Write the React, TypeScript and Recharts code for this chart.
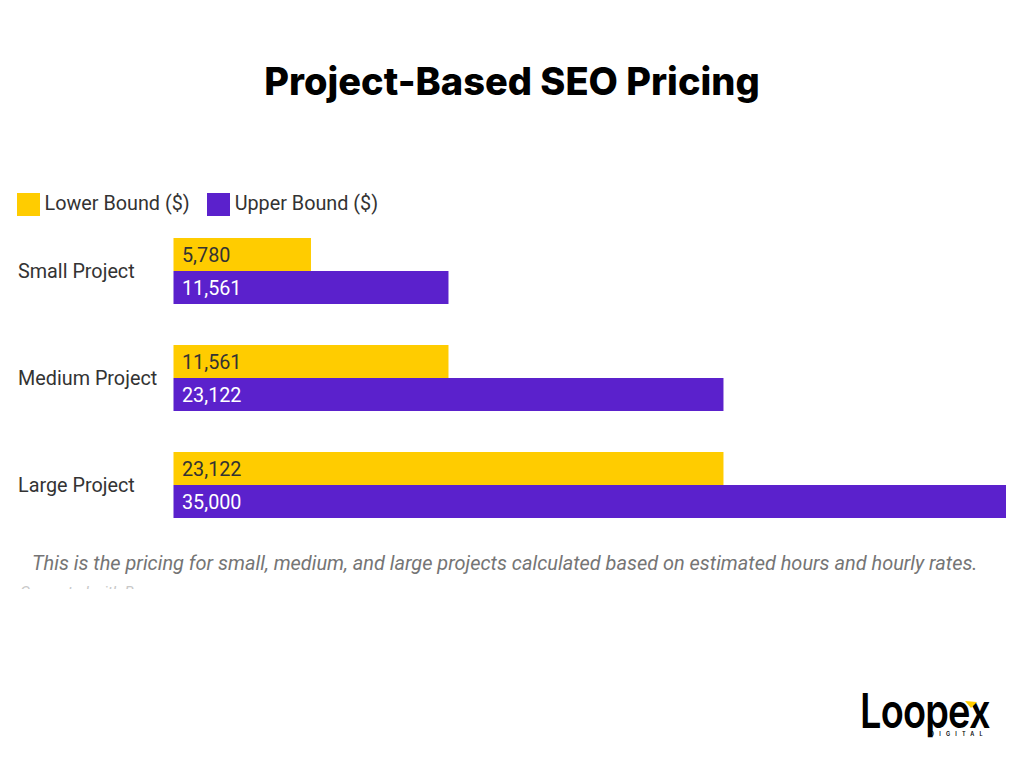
import React from "react";
import { Bar, BarChart, LabelList, Legend, XAxis, YAxis } from "recharts";

const categories = ["Small Project", "Medium Project", "Large Project"];
const lowerBound = [5780, 11561, 23122];
const upperBound = [11561, 23122, 35000];
const seriesNames = ["Lower Bound ($)", "Upper Bound ($)"];
const seriesColors = ["#FFCC00", "#5B21CC"];

const data = categories.map((name, i) => ({
  name,
  lower: lowerBound[i],
  upper: upperBound[i],
}));

const font = "Roboto, sans-serif";

const CategoryTick = ({ y, payload }: any) => (
  <text x={18} y={y} dy={7} fontSize={19.8} fontFamily={font} fill="#333333" textAnchor="start">
    {payload.value}
  </text>
);

const ChartLegend = ({ payload }: any) => (
  <div style={{ display: "flex", height: 24, fontFamily: font, fontSize: 19.8, color: "#333333" }}>
    {(payload || []).map((item: any) => (
      <div key={item.value} style={{ display: "flex", alignItems: "center", marginRight: 17 }}>
        <span style={{ width: 23, height: 23, background: item.color, marginRight: 5 }} />
        <span style={{ position: "relative", top: -1 }}>{item.value}</span>
      </div>
    ))}
  </div>
);

const fmt = (v: any) => Number(v).toLocaleString("en-US");

const App = () => {
  return (
    <div style={{ position: "absolute", left: 0, top: 0, width: 1024, height: 768, background: "#fff", overflow: "hidden" }}>
      <div
        style={{
          position: "absolute",
          left: 0,
          width: 1024,
          top: 57,
          textAlign: "center",
          fontFamily: "Inter, sans-serif",
          fontWeight: 800,
          fontSize: 38,
          lineHeight: "48px",
          color: "#000",
          whiteSpace: "nowrap",
        }}
      >
        Project-Based SEO Pricing
      </div>

      <div style={{ position: "absolute", left: 0, top: 0 }}>
        <BarChart
          layout="vertical"
          width={1024}
          height={768}
          data={data}
          margin={{ top: 193, right: 18, left: 0, bottom: 230 }}
          barGap={0}
          barSize={33}
        >
          <XAxis type="number" domain={[0, 35000]} hide />
          <YAxis
            type="category"
            dataKey="name"
            width={173.5}
            axisLine={false}
            tickLine={false}
            tick={<CategoryTick />}
          />
          <Legend
            verticalAlign="top"
            align="left"
            content={<ChartLegend />}
            wrapperStyle={{ left: 16.5, top: 192, width: 600 }}
          />
          <Bar dataKey="lower" name={seriesNames[0]} fill={seriesColors[0]} isAnimationActive={false}>
            <LabelList dataKey="lower" position="insideLeft" offset={8.5} formatter={fmt} fill="#333333" fontSize={19.8} fontFamily={font} />
          </Bar>
          <Bar dataKey="upper" name={seriesNames[1]} fill={seriesColors[1]} isAnimationActive={false}>
            <LabelList dataKey="upper" position="insideLeft" offset={8.5} formatter={fmt} fill="#ffffff" fontSize={19.8} fontFamily={font} />
          </Bar>
        </BarChart>
      </div>

      <div
        style={{
          position: "absolute",
          left: 32,
          top: 551,
          fontFamily: font,
          fontStyle: "italic",
          fontSize: 19.95,
          lineHeight: "24px",
          color: "#757575",
          whiteSpace: "nowrap",
        }}
      >
        This is the pricing for small, medium, and large projects calculated based on estimated hours and hourly rates.
      </div>

      {/* line below the note is cut off in the original, only the tops show */}
      <div style={{ position: "absolute", left: 20, top: 586, height: 3, width: 130, overflow: "hidden" }}>
        <div style={{ marginTop: -4, fontFamily: font, fontStyle: "italic", fontSize: 15.5, lineHeight: "20px", color: "#c8c8c8", whiteSpace: "nowrap" }}>
          Generated with B
        </div>
      </div>

      <div
        style={{
          position: "absolute",
          left: 860,
          top: 682,
          fontFamily: "Inter, sans-serif",
          fontWeight: 600,
          fontSize: 48,
          lineHeight: "58px",
          letterSpacing: -1,
          color: "#000",
          transform: "scaleX(0.79)",
          transformOrigin: "left top",
          whiteSpace: "nowrap",
        }}
      >
        Loopex
      </div>
      <svg width={12} height={8} style={{ position: "absolute", left: 965, top: 701 }}>
        <polygon points="0,0 12,1 6,7" fill="#FFCC00" />
      </svg>
      <div
        style={{
          position: "absolute",
          left: 930,
          top: 731,
          fontFamily: "Inter, sans-serif",
          fontWeight: 600,
          fontSize: 5.5,
          lineHeight: "7px",
          letterSpacing: 5.2,
          color: "#000",
          whiteSpace: "nowrap",
        }}
      >
        DIGITAL
      </div>
    </div>
  );
};

export default App;
